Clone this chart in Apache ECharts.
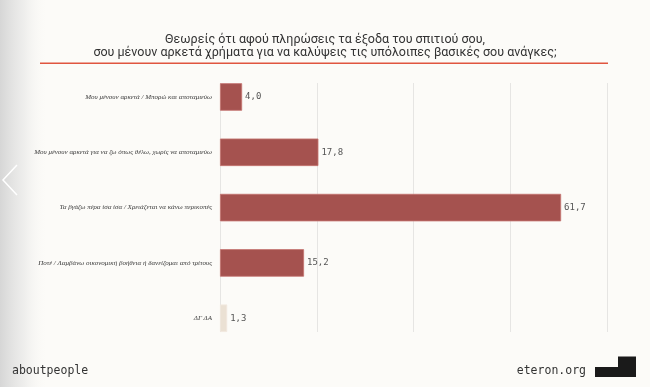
<!DOCTYPE html>
<html>
<head>
<meta charset="utf-8">
<script src="https://cdn.jsdelivr.net/npm/echarts@6/dist/echarts.min.js"></script>
<style>
html,body{margin:0;padding:0;background:#fcfbf8;}
#chart{width:650px;height:387px;}
</style>
</head>
<body>
<div id="chart"></div>
<script>
const titleLines = [
  'Θεωρείς ότι αφού πληρώσεις τα έξοδα του σπιτιού σου,',
  'σου μένουν αρκετά χρήματα για να καλύψεις τις υπόλοιπες βασικές σου ανάγκες;'
];
const categories = [
  'Μου μένουν αρκετά / Μπορώ και αποταμιεύω',
  'Μου μένουν αρκετά για να ζω όπως θέλω, χωρίς να αποταμιεύω',
  'Τα βγάζω πέρα ίσα ίσα / Χρειάζεται να κάνω περικοπές',
  'Ποτέ / Λαμβάνω οικονομική βοήθεια ή δανείζομαι από τρίτους',
  'ΔΓ ΔΑ'
];
const values = [4.0, 17.8, 61.7, 15.2, 1.3];
const isNoAnswer = [false, false, false, false, true];
const axisMin = 0, axisMax = 70, axisInterval = 17.5;
const footerLeft = 'aboutpeople';
const footerRight = 'eteron.org';

const chart = echarts.init(document.getElementById('chart'), null, {renderer: 'canvas'});
const barData = values.map((v, i) => ({
  value: v,
  itemStyle: isNoAnswer[i]
    ? {color: '#ebe1d4', borderColor: '#f1e9de', borderWidth: 0.8}
    : {color: '#a5524f', borderColor: '#c57370', borderWidth: 0.8}
}));

chart.setOption({
  backgroundColor: '#fcfbf8',
  animation: false,
  grid: [
    {left: 220, right: 43, top: 69.3, height: 276.6, containLabel: false},
    {left: 220, right: 43, top: 83, height: 249, containLabel: false}
  ],
  xAxis: [
    {gridIndex: 0, type: 'value', min: axisMin, max: axisMax, interval: axisInterval,
     axisLine: {show: false}, axisTick: {show: false}, axisLabel: {show: false}, splitLine: {show: false}},
    {gridIndex: 1, type: 'value', min: axisMin, max: axisMax, interval: axisInterval,
     axisLine: {show: false}, axisTick: {show: false}, axisLabel: {show: false},
     splitLine: {show: true, lineStyle: {color: '#e6e5e3', width: 1}}}
  ],
  yAxis: [
    {gridIndex: 0, type: 'category', data: categories, inverse: true,
     axisLine: {show: false}, axisTick: {show: false},
     axisLabel: {margin: 8, color: '#3a3a3a', fontSize: 7, fontStyle: 'italic',
                 fontFamily: 'Liberation Serif'}},
    {gridIndex: 1, type: 'value', min: 0, max: 1, show: false}
  ],
  series: [{
    type: 'bar',
    xAxisIndex: 0, yAxisIndex: 0,
    data: barData,
    barWidth: 27.5,
    z: 3,
    label: {
      show: true, position: 'right', distance: 3,
      formatter: p => p.value.toFixed(1).replace('.', ','),
      color: '#555', fontSize: 9, fontFamily: 'DejaVu Sans Mono'
    }
  }],
  graphic: [
    {type: 'rect', left: 0, top: 0, z: -1, silent: true,
     shape: {width: 48, height: 387},
     style: {fill: new echarts.graphic.LinearGradient(0, 0, 1, 0, [
       {offset: 0, color: 'rgba(214,214,214,1)'},
       {offset: 0.5, color: 'rgba(232,232,231,0.7)'},
       {offset: 1, color: 'rgba(252,251,248,0)'}])}},
    {type: 'polyline', silent: true, z: 10,
     shape: {points: [[17, 165], [3, 180], [17, 195]]},
     style: {stroke: '#ffffff', lineWidth: 1.5, fill: null}},
    {type: 'text', left: 'center', top: 33, silent: true,
     style: {text: titleLines.join('\n'), fill: '#333', font: '12.5px Roboto',
             textAlign: 'center', lineHeight: 13}},
    {type: 'rect', left: 40, top: 62.5, silent: true,
     shape: {width: 568, height: 1.6},
     style: {fill: '#e0553f'}},
    {type: 'text', left: 12, top: 365, silent: true,
     style: {text: footerLeft, fill: '#333', font: '11.5px "DejaVu Sans Mono"'}},
    {type: 'text', right: 64, top: 365, silent: true,
     style: {text: footerRight, fill: '#333', font: '11.5px "DejaVu Sans Mono"', textAlign: 'right'}},
    {type: 'polygon', silent: true,
     shape: {points: [[595, 367], [618, 367], [618, 356.5], [636, 356.5], [636, 377], [595, 377]]},
     style: {fill: '#1a1a1a'}}
  ]
});
</script>
</body>
</html>
